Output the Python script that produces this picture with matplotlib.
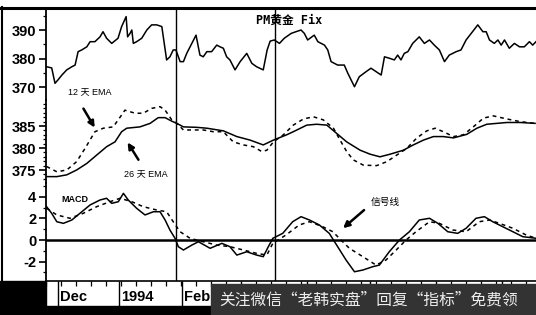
import matplotlib.pyplot as plt
from matplotlib.lines import Line2D
from matplotlib.patches import Rectangle
from matplotlib.ticker import FixedLocator, MultipleLocator

plt.rcParams['font.family'] = ['Liberation Sans', 'Noto Sans CJK SC', 'DejaVu Sans']

W, H = 536, 315

# trading-day index (x) and values
price_day = [0.2, 1.9, 3, 4, 5.3, 6.9, 8.6, 9.7, 10.7, 11.9, 13.6, 14.7, 16.3, 18, 19, 20.2,
             21.9, 24, 25.2, 26.7, 27.2, 28, 28.6, 29.1, 30.2, 31.9, 33.6, 35.2, 36.9, 38.6,
             40.2, 41.3, 42.4, 43.3, 44.7, 45.8, 46.9, 48.6, 50, 51.3, 52.4, 53.6, 55.2, 56.9,
             58, 59.1, 60.2, 61.3, 63, 64.7, 66.9, 68.6, 70.2, 72.4, 73.7, 74.7, 76.1, 77.8,
             79.4, 81.7, 83.3, 85, 86.1, 87.2, 89.4, 90.6, 92.8, 93.9, 95, 97.2, 99.4, 100.6,
             102.8, 104.4, 106.7, 108.3, 110, 111.7, 112.8, 114.4, 116.1, 117.2, 118.3, 119.4,
             120.6, 122.2, 124.4, 126.1, 127.8, 129.4, 131.1, 132.8, 134.4, 136.7, 138.3, 140,
             141.7, 143.9, 145.6, 146.7, 147.8, 149.4, 150.6, 151.7, 152.8, 154.4, 156.1, 157.8,
             159.4, 161.1, 162.2, 163.3]
price = [377.1, 376.7, 371.3, 372.5, 374.2, 376.0, 377.1, 377.7, 382.4, 383.0, 384.1, 385.9,
         385.9, 387.6, 389.4, 387.1, 385.3, 387.1, 391.2, 394.7, 387.6, 388.8, 390.0, 385.3,
         385.9, 387.1, 390.0, 391.8, 391.8, 391.2, 379.5, 380.6, 383.0, 383.0, 378.9, 378.9,
         381.8, 385.3, 388.2, 381.2, 380.6, 382.4, 382.4, 384.7, 384.1, 383.6, 380.6, 379.5,
         376.0, 378.9, 381.8, 378.3, 377.1, 376.0, 383.0, 386.1, 386.5, 385.3, 387.1, 388.8,
         389.4, 390.0, 388.8, 386.5, 388.2, 385.9, 384.7, 383.0, 378.9, 377.7, 377.7, 374.8,
         370.1, 373.6, 375.4, 376.6, 375.4, 374.2, 380.6, 380.1, 379.5, 381.2, 379.5, 381.8,
         382.4, 385.3, 387.6, 385.3, 386.5, 384.7, 383.0, 378.9, 381.2, 382.4, 383.0, 386.5,
         388.8, 391.8, 389.4, 389.4, 386.5, 385.3, 386.5, 384.7, 386.5, 383.6, 385.3, 384.1,
         384.1, 385.9, 384.7, 385.9]

ema12_day = [0.2, 3.6, 6.9, 10.2, 13, 16.3, 19.1, 22.4, 25.2, 26.3, 29.7, 32.4, 35.2, 38, 39.7,
             41.9, 43.6, 45.8, 49.1, 52.4, 55.8, 59.1, 62.4, 65.8, 69.1, 71.9, 73.6, 75.8, 79.1,
             82.4, 85.8, 89.1, 92.4, 95.8, 98, 100.2, 102.4, 105.8, 110.2, 113.6, 116.9, 120.2,
             123.6, 126.9, 129.7, 132.4, 135.8, 139.1, 142.4, 145.8, 149.1, 153.6, 158, 163]
ema12 = [375.8, 374.6, 375.0, 376.9, 379.9, 383.7, 384.5, 384.8, 387.5, 388.6, 387.9, 387.9,
         389.0, 389.4, 388.6, 386.4, 385.6, 384.1, 384.1, 384.1, 383.7, 383.7, 381.4, 380.7,
         380.3, 379.2, 379.5, 381.4, 383.0, 385.2, 386.6, 387.1, 386.4, 384.5, 381.8, 379.2,
         377.3, 376.1, 376.0, 376.9, 378.4, 379.9, 382.3, 383.9, 384.5, 383.7, 382.6, 383.0,
         384.8, 386.8, 387.3, 386.6, 386.0, 385.6]

ema26_day = [0.2, 3.6, 6.9, 10.2, 13.6, 16.9, 20.2, 23, 25.2, 26.9, 31.3, 34.7, 37.4, 39.7,
             41.9, 43.6, 45.8, 50.2, 53.6, 59.1, 63.6, 68, 72.4, 75.8, 80.2, 82.4, 86.9, 90.2,
             93.6, 96.9, 100.2, 104.7, 108, 111.3, 114.7, 119.1, 122.4, 125.8, 129.1, 132.4,
             135.8, 140.2, 143.6, 146.9, 153.6, 158, 163]
ema26 = [373.5, 373.5, 373.9, 375.0, 376.5, 378.4, 380.3, 381.4, 383.7, 384.5, 384.8, 385.6,
         386.9, 386.9, 386.1, 385.6, 384.8, 384.7, 384.5, 383.9, 382.6, 381.8, 380.7, 381.8,
         383.0, 383.7, 385.2, 385.4, 385.2, 383.3, 381.4, 379.5, 378.6, 378.0, 378.6, 379.5,
         380.7, 381.8, 382.6, 382.6, 382.3, 383.1, 384.5, 385.4, 385.8, 385.8, 385.6]

macd_day = [0.2, 1.9, 3.6, 5.8, 8.6, 11.3, 14.7, 18, 20.2, 21.9, 24.1, 25.8, 27.4, 30.2, 33,
            35.8, 38, 39.7, 41.3, 43, 44.1, 45.8, 48.6, 50.8, 54.7, 58.6, 61.3, 63.6, 66.9,
            70.2, 72.4, 74.1, 75.6, 78.9, 82.2, 85, 87.8, 91.1, 94.4, 97.2, 100, 102.8, 105.6,
            108.9, 111.1, 114.4, 117.8, 121.1, 124.4, 127.8, 130.6, 133.9, 137.2, 140, 143.3,
            146.1, 148.9, 152.2, 155.6, 158.9, 163.3]
macd = [3.10, 2.48, 1.70, 1.55, 1.86, 2.48, 3.26, 3.72, 3.88, 3.41, 3.56, 4.34, 3.72, 2.95,
        2.33, 2.63, 2.63, 1.86, 0.93, 0.16, -0.62, -0.93, -0.47, -0.16, -0.77, -0.31, -0.62,
        -1.40, -1.09, -1.40, -1.55, -0.62, 0.16, 0.62, 1.70, 2.17, 1.86, 1.40, 0.62, -0.62,
        -1.86, -2.95, -2.79, -2.48, -2.33, -1.09, 0.00, 0.77, 1.86, 2.02, 1.55, 0.77, 0.62,
        1.09, 2.02, 2.17, 1.70, 1.24, 0.77, 0.31, 0.16]

signal_day = [0.2, 3.6, 8, 12.4, 16.9, 21.3, 24.7, 28.6, 32.4, 36.9, 40.2, 42.4, 44.7, 48, 52.4,
              56.9, 61.3, 65.8, 70.2, 73.6, 75.6, 80, 84.4, 87.8, 92.2, 95.6, 98.3, 101.1, 105.6,
              110, 113.3, 116.7, 120, 123.3, 127.8, 131.1, 135.6, 140, 144.4, 147.8, 151.1,
              155.6, 160, 163.3]
signal = [2.95, 2.33, 2.02, 2.48, 3.10, 3.56, 3.88, 3.56, 3.10, 2.79, 2.63, 1.70, 0.77, 0.16,
          -0.16, -0.47, -0.62, -0.93, -1.24, -1.40, -0.30, 0.47, 1.40, 1.70, 1.24, 0.77, 0.00,
          -0.77, -1.55, -2.33, -1.86, -0.93, 0.00, 0.77, 1.70, 1.55, 0.93, 0.77, 1.70, 1.86,
          1.55, 1.09, 0.47, 0.16]

month_ticks = [4, 24.3, 45.3, 65, 87, 108, 130, 152]
month_labels = ['Dec', '1994', 'Feb']
marker_days = [43.2, 76.3]

price_ticks = [370, 380, 390]
ema_ticks = [375, 380, 385]
macd_ticks = [-2, 0, 2, 4]

watermark = '关注微信“老韩实盘”回复“指标”免费领'


def box(x0, y0, x1, y1):
    # pixel box, origin top-left -> figure fraction rect
    return [x0 / W, 1 - y1 / H, (x1 - x0) / W, (y1 - y0) / H]


def fy(py):
    return 1 - py / H


fig = plt.figure(figsize=(W / 100, H / 100), dpi=100)
fig.patch.set_facecolor('white')

ax1 = fig.add_axes(box(46, 9, 536, 100))
ax2 = fig.add_axes(box(46, 100, 536, 183), sharex=ax1)
ax3 = fig.add_axes(box(46, 183, 536, 281), sharex=ax1)

ax1.set_ylim(365.44, 397.37)
ax2.set_ylim(372.05, 390.91)
ax3.set_ylim(-3.81, 5.30)
ax1.set_xlim(0, 163.3)

ax1.set_yticks(price_ticks, labels=[str(t) for t in price_ticks], fontweight='bold')
ax2.set_yticks(ema_ticks, labels=[str(t) for t in ema_ticks], fontweight='bold')
ax3.set_yticks(macd_ticks, labels=[str(t) for t in macd_ticks], fontweight='bold')
ax1.yaxis.set_minor_locator(MultipleLocator(5))
ax2.yaxis.set_minor_locator(MultipleLocator(1))
ax3.yaxis.set_minor_locator(MultipleLocator(1))

for ax in (ax1, ax2, ax3):
    ax.set_facecolor('none')
    for s in ('top', 'right', 'bottom'):
        ax.spines[s].set_visible(False)
    ax.spines['left'].set_linewidth(1.3)
    ax.tick_params(axis='y', which='major', length=5, width=1.2, pad=2, labelsize=10.5)
    ax.tick_params(axis='y', which='minor', length=2.5, width=0.9)
    ax.tick_params(axis='x', which='both', bottom=False, labelbottom=False)
    for d in marker_days:
        ax.axvline(d, color='k', lw=1.0)

dash = (0, (2.5, 2.5))
ax1.plot(price_day, price, color='k', lw=1.1)
ax2.plot(ema26_day, ema26, color='k', lw=1.1)
ax2.plot(ema12_day, ema12, color='k', lw=1.1, ls=dash)
ax3.plot(macd_day, macd, color='k', lw=1.1)
ax3.plot(signal_day, signal, color='k', lw=1.1, ls=dash)
ax3.axhline(0, color='k', lw=1.8)

# bottom date strip
ax3.spines['bottom'].set_visible(True)
ax3.spines['bottom'].set_linewidth(1.2)
ax3.xaxis.set_major_locator(FixedLocator(month_ticks))
ax3.xaxis.set_minor_locator(MultipleLocator(5))
ax3.tick_params(axis='x', which='major', bottom=True, direction='out', length=18, width=1.0)
ax3.tick_params(axis='x', which='minor', bottom=True, direction='out', length=3.5, width=0.9)
for d, lab in zip(month_ticks, month_labels):
    ax3.text(d + 0.7, -0.16, lab, transform=ax3.get_xaxis_transform(), ha='left',
             va='center', fontsize=10.5, fontweight='bold')

# annotations
arrow = dict(arrowstyle='-|>', color='k', lw=1.8, mutation_scale=9)
ax1.text(70, 393.5, 'PM黄金 Fix', ha='left', va='center', fontsize=8.5, fontweight='bold',
         family=['DejaVu Sans Mono', 'Noto Sans CJK SC'])
ax2.text(14.7, 392.7, '12 天 EMA', ha='center', va='center', fontsize=6.5)
ax2.annotate('', xy=(16.7, 384.1), xytext=(12, 389.5), arrowprops=arrow, annotation_clip=False)
ax2.text(33.3, 373.9, '26 天 EMA', ha='center', va='center', fontsize=6.5)
ax2.annotate('', xy=(26.7, 381.8), xytext=(31.3, 376.8), arrowprops=arrow, annotation_clip=False)
ax3.text(9.7, 3.72, 'MACD', ha='center', va='center', fontsize=6.5, fontweight='bold')
ax3.text(113.2, 3.53, '信号线', ha='center', va='center', fontsize=7)
ax3.annotate('', xy=(98.3, 0.93), xytext=(106.7, 2.95), arrowprops=arrow, annotation_clip=False)

# frame lines
fig.add_artist(Line2D([0, 1], [fy(7.5)] * 2, transform=fig.transFigure, color='k', lw=2.2))
fig.add_artist(Line2D([1.5 / W] * 2, [fy(7), fy(281)], transform=fig.transFigure, color='k', lw=1.5))

# dark bottom areas and watermark band
fig.add_artist(Rectangle((0, 0), 46 / W, 34 / H, transform=fig.transFigure, color='k', zorder=5))
fig.add_artist(Rectangle((0, 0), 1, 9 / H, transform=fig.transFigure, color='k', zorder=5))
fig.add_artist(Rectangle((211 / W, 0), 325 / W, 31 / H, transform=fig.transFigure,
                         color='#333333', zorder=5))
fig.text(219 / W, fy(300), watermark, color='#eeeeee', fontsize=11.3, va='center',
         family=['Noto Sans CJK SC'], zorder=6)

fig.savefig('out.png', dpi=100, facecolor='white')
